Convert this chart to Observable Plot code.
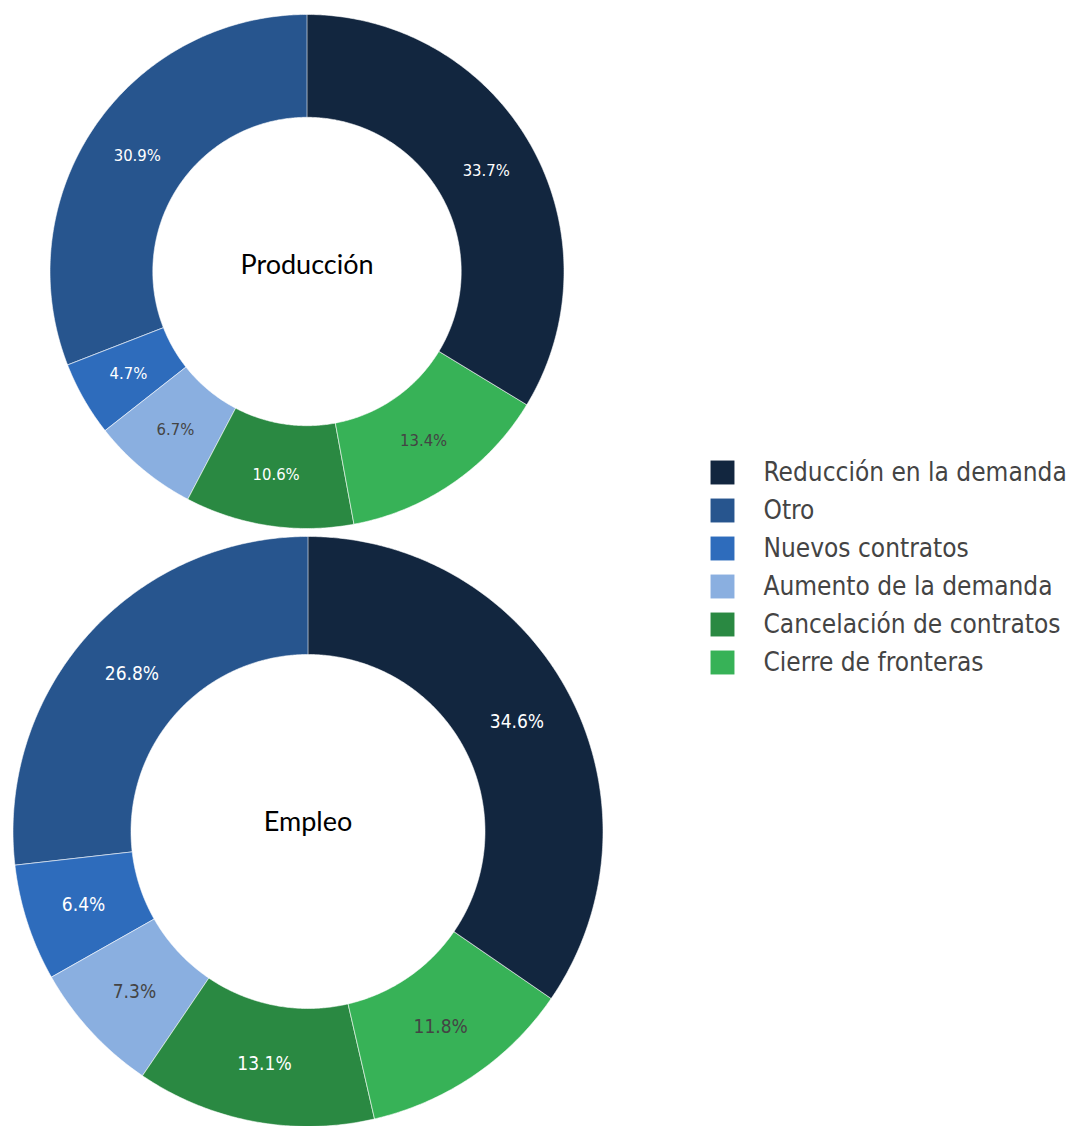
<!DOCTYPE html>
<html>
<head>
<meta charset="utf-8">
<script src="https://cdn.jsdelivr.net/npm/d3@7"></script>
<script src="https://cdn.jsdelivr.net/npm/@observablehq/plot@0.6"></script>
<style>
  html, body { margin: 0; padding: 0; background: #fff; }
  #chart { width: 1075px; height: 1126px; }
</style>
</head>
<body>
<div id="chart"></div>
<script>
// ---- data ----
const categories = ["Reducción en la demanda", "Otro", "Nuevos contratos", "Aumento de la demanda", "Cancelación de contratos", "Cierre de fronteras"];
const colors = ["#12263f", "#27558e", "#2e6cbc", "#8aafe0", "#2a8942", "#37b257"];
const labelColors = ["#ffffff", "#ffffff", "#ffffff", "#444444", "#ffffff", "#444444"];
// clockwise order of the slices, starting at 12 o'clock
const sliceOrder = ["Reducción en la demanda", "Cierre de fronteras", "Cancelación de contratos", "Aumento de la demanda", "Nuevos contratos", "Otro"];
// values in category order (%)
const produccionValues = [33.7, 30.9, 4.7, 6.7, 10.6, 13.4];
const empleoValues = [34.6, 26.8, 6.4, 7.3, 13.1, 11.8];
const chartTitles = ["Producción", "Empleo"];

// ---- layout (pixels) ----
const W = 1075, H = 1126;
const donuts = [
  {title: chartTitles[0], values: produccionValues, cx: 306.5, cy: 271, r: 257, titleY: 265, labelSize: 16.5},
  {title: chartTitles[1], values: empleoValues, cx: 307.5, cy: 831, r: 295, titleY: 822, labelSize: 19}
];
const hole = 0.6;

const slicePts = [];
const labels = [];
donuts.forEach((d, di) => {
  const total = d3.sum(d.values);
  let start = 0;
  const rIn = d.r * hole;
  sliceOrder.forEach(cat => {
    const ci = categories.indexOf(cat);
    const v = d.values[ci];
    const a0 = start / total * 2 * Math.PI;
    const a1 = (start + v) / total * 2 * Math.PI;
    start += v;
    const key = di + "-" + cat;
    const n = Math.max(2, Math.ceil((a1 - a0) / (Math.PI / 360)));
    for (let i = 0; i <= n; i++) {
      const a = a0 + (a1 - a0) * i / n;
      slicePts.push({key, cat, x: d.cx + d.r * Math.sin(a), y: d.cy - d.r * Math.cos(a)});
    }
    for (let i = n; i >= 0; i--) {
      const a = a0 + (a1 - a0) * i / n;
      slicePts.push({key, cat, x: d.cx + rIn * Math.sin(a), y: d.cy - rIn * Math.cos(a)});
    }
    const am = (a0 + a1) / 2, rm = (d.r + rIn) / 2;
    labels.push({x: d.cx + rm * Math.sin(am), y: d.cy - rm * Math.cos(am), text: v.toFixed(1) + "%", color: labelColors[ci], size: d.labelSize});
  });
});

const titles = donuts.map(d => ({x: d.cx, y: d.titleY, text: d.title}));
const legend = categories.map((c, i) => ({cat: c, i}));
const legendX = 722, legendTextX = 763, legendY0 = 472, legendStep = 38;

const plot = Plot.plot({
  width: W,
  height: H,
  margin: 0,
  x: {domain: [0, W], range: [0, W], axis: null},
  y: {domain: [0, H], range: [0, H], axis: null},
  color: {domain: categories, range: colors},
  marks: [
    Plot.line(slicePts, {x: "x", y: "y", z: "key", fill: "cat", stroke: "#ffffff", strokeWidth: 0.7, strokeOpacity: 0.8, curve: "linear-closed"}),
    Plot.text(labels.filter(l => l.size < 18), {x: "x", y: "y", text: "text", fill: d => d.color, fontSize: 16.5, fontFamily: "DejaVu Sans Condensed, DejaVu Sans, sans-serif", fontStretch: "condensed"}),
    Plot.text(labels.filter(l => l.size >= 18), {x: "x", y: "y", text: "text", fill: d => d.color, fontSize: 19, fontFamily: "DejaVu Sans Condensed, DejaVu Sans, sans-serif", fontStretch: "condensed"}),
    Plot.text(titles, {x: "x", y: "y", text: "text", fill: "#000", fontSize: 27, fontFamily: "Lato, Carlito, Calibri, sans-serif"}),
    Plot.dot(legend, {x: () => legendX, y: d => legendY0 + d.i * legendStep, symbol: "square", r: 13.5, fill: "cat", stroke: "none"}),
    Plot.text(legend, {x: () => legendTextX, y: d => legendY0 + d.i * legendStep, text: "cat", textAnchor: "start", fill: "#444", fontSize: 26, fontFamily: "DejaVu Sans Condensed, DejaVu Sans, sans-serif", fontStretch: "condensed"})
  ]
});
document.getElementById("chart").appendChild(plot);
</script>
</body>
</html>
